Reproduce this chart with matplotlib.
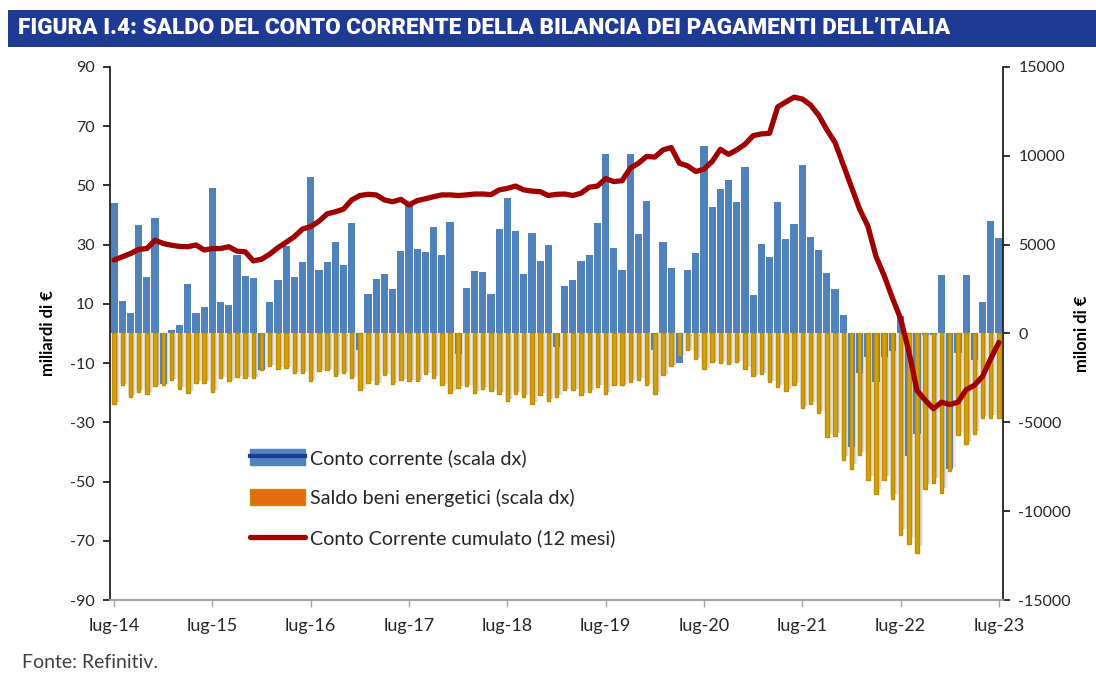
import numpy as np
import matplotlib
matplotlib.use("Agg")
import matplotlib.pyplot as plt
from matplotlib.patches import Patch, Rectangle
from matplotlib.lines import Line2D

plt.rcParams['font.family'] = ['Lato', 'DejaVu Sans']
plt.rcParams['axes.unicode_minus'] = False

# monthly data, lug-14 .. lug-23
tick_labels = ['lug-14', 'lug-15', 'lug-16', 'lug-17', 'lug-18',
               'lug-19', 'lug-20', 'lug-21', 'lug-22', 'lug-23']

# Conto corrente (milioni di euro, scala dx)
conto_corrente = [
    7330, 1830, 1170, 6100, 3170, 6500, -2830, 220, 500, 2780, 1170, 1500,
    8170, 1750, 1600, 4420, 3230, 3120, -2070, 1780, 3000, 4920, 3170, 4000,
    8830, 3600, 4000, 5170, 3830, 6230, -930, 2250, 3080, 3330, 2480, 4630,
    7230, 4730, 4600, 5980, 4420, 6250, -1170, 2570, 3500, 3480, 2200, 5880,
    7650, 5770, 3330, 5670, 4080, 4980, -750, 2670, 3000, 4080, 4420, 6230,
    10080, 4830, 3600, 10080, 5580, 7480, -930, 5150, 3700, -1650, 3600, 4550,
    10570, 7130, 8120, 8650, 7380, 9350, 2170, 5020, 4280, 7420, 5320, 6150,
    9480, 5450, 4700, 3430, 2530, 1030, -6380, -2250, -1300, -2750, -1330, -1000,
    980, -6870, -5630, -80, -80, 3280, -7600, -1120, 3280, -1500, 1780, 6350,
    5350,
]

# Saldo beni energetici (milioni di euro, scala dx)
saldo_energia = [
    -3950, -2920, -3570, -3280, -3380, -2970, -2920, -2630, -3100, -3330, -2770, -2770,
    -3280, -2500, -2680, -2450, -2530, -2530, -2070, -1820, -1970, -1920, -2220, -2220,
    -2670, -2100, -2070, -2400, -2250, -2530, -3200, -2780, -2870, -2350, -2870, -2630,
    -2670, -2670, -2300, -2480, -2920, -3330, -3050, -2970, -3350, -3100, -3250, -3380,
    -3800, -3380, -3570, -3950, -3480, -3820, -3570, -3200, -3200, -3480, -3280, -3000,
    -3380, -2920, -2920, -2720, -2600, -2920, -3380, -2350, -1830, -1220, -930, -1420,
    -2000, -1580, -1650, -1720, -1580, -1970, -2400, -2280, -2750, -3000, -3220, -2900,
    -4220, -3970, -4480, -5820, -5770, -7130, -7600, -6850, -8250, -9050, -8250, -9330,
    -11350, -11820, -12350, -8730, -8400, -8950, -7730, -5720, -6230, -5680, -4780, -4730,
    -4780,
]

# Conto corrente cumulato 12 mesi (miliardi di euro, scala sx)
cumulato = [
    24.8, 25.9, 27.0, 28.4, 28.7, 31.5, 30.4, 29.8, 29.4, 29.3, 29.9, 28.2,
    28.7, 28.7, 29.3, 27.8, 27.6, 24.5, 25.1, 26.8, 29.0, 30.8, 32.7, 35.3,
    36.1, 37.9, 40.4, 41.1, 42.0, 45.1, 46.6, 47.0, 46.8, 45.1, 44.5, 45.3,
    43.4, 44.9, 45.5, 46.2, 46.8, 46.8, 46.6, 46.8, 47.1, 47.1, 46.9, 48.5,
    49.0, 49.8, 48.5, 48.1, 47.9, 46.6, 47.0, 47.1, 46.6, 47.4, 49.4, 49.8,
    52.3, 51.3, 51.6, 55.8, 57.5, 59.8, 59.6, 62.0, 62.8, 57.5, 56.6, 54.7,
    55.5, 58.1, 62.2, 60.5, 62.0, 63.9, 66.8, 67.4, 67.6, 76.5, 78.2, 79.8,
    79.2, 77.2, 73.7, 68.8, 64.5, 57.0, 49.5, 42.0, 36.3, 26.0, 19.5, 12.0,
    5.0, -6.0, -19.2, -22.5, -25.4, -23.2, -24.0, -23.2, -19.0, -17.5, -14.5, -8.5,
    -3.0,
]

BLUE = '#4F81BD'
GOLD = '#D4A10F'
GOLD_EDGE = '#BF8F00'
RED = '#A00000'
NAVY = '#1F3A93'

x = np.arange(len(conto_corrente))
cc = np.array(conto_corrente)
en = np.array(saldo_energia)

fig = plt.figure(figsize=(10.96, 6.75), dpi=100)
ax = fig.add_axes([110 / 1096, 75 / 675, 893 / 1096, 533 / 675])
ax2 = ax.twinx()

# soft shadow under the energy bars
for w, off, a in [(1.0, 0.25, 0.07), (0.75, 0.2, 0.08), (0.55, 0.15, 0.09)]:
    ax2.bar(x + off, en * 0.97, width=w, color='black', alpha=a,
            linewidth=0, zorder=1)
ax2.bar(x, cc, width=0.88, color=BLUE, linewidth=0, zorder=2)
ax2.bar(x, en, width=0.42, color=GOLD, edgecolor=GOLD_EDGE,
        linewidth=1.0, zorder=3)

ax.plot(x, cumulato, color=RED, lw=3.8, solid_capstyle='round',
        solid_joinstyle='round', zorder=5)

ax.set_zorder(ax2.get_zorder() + 1)
ax.patch.set_visible(False)

ax.set_xlim(-0.5, len(x) - 0.5)
ax.set_ylim(-90, 90)
ax.set_yticks(np.arange(-90, 91, 20))
ax2.set_ylim(-15000, 15000)
ax2.set_yticks(np.arange(-15000, 15001, 5000))

ax.set_xticks(np.arange(0, len(x), 12))
ax.set_xticklabels(tick_labels, fontsize=13)

for s in ['top', 'right']:
    ax.spines[s].set_visible(False)
for s in ['top', 'left', 'bottom']:
    ax2.spines[s].set_visible(False)
ax.spines['left'].set_color('#222222')
ax.spines['left'].set_linewidth(1.3)
ax.spines['bottom'].set_color('#A6A6A6')
ax.spines['bottom'].set_linewidth(1.5)
ax2.spines['right'].set_color('#222222')
ax2.spines['right'].set_linewidth(1.3)

ax.tick_params(axis='y', length=5, width=1.3, color='#222222',
               labelsize=11.5, labelcolor='#262626', pad=6)
ax2.tick_params(axis='y', length=5, width=1.3, color='#222222',
                labelsize=11.5, labelcolor='#262626', pad=6)
ax.tick_params(axis='x', length=5, width=1, color='#A6A6A6',
               labelcolor='#262626', pad=8)

ax.set_ylabel('miliardi di €', fontsize=12, fontweight='bold', labelpad=10)
ax2.set_ylabel('miloni di €', fontsize=12, fontweight='bold', labelpad=2)

handles = [
    (Patch(facecolor=BLUE, edgecolor=BLUE), Line2D([], [], color=NAVY, lw=3)),
    Patch(facecolor='#E46C0A', edgecolor=GOLD_EDGE, linewidth=1),
    Line2D([], [], color=RED, lw=3.8, solid_capstyle='round'),
]
labels = ['Conto corrente (scala dx)', 'Saldo beni energetici (scala dx)',
          'Conto Corrente cumulato (12 mesi)']
fig.legend(handles, labels, loc='upper left',
           bbox_to_anchor=(240 / 1096, 1 - 439 / 675), frameon=False,
           fontsize=14.2, handlelength=2.8, handleheight=0.9,
           handletextpad=0.23, labelspacing=1.12, borderpad=0,
           labelcolor='#262626')

# title band
fig.patches.append(Rectangle((8 / 1096, 1 - 47 / 675), 1 - 8 / 1096, 37 / 675,
                             transform=fig.transFigure, facecolor=NAVY,
                             edgecolor='none', zorder=0))
fig.text(18 / 1096, 1 - 28.5 / 675,
         'FIGURA I.4: SALDO DEL CONTO CORRENTE DELLA BILANCIA DEI PAGAMENTI DELL’ITALIA',
         color='white', fontsize=16.2, fontweight='heavy', va='center', ha='left',
         family=['Roboto', 'DejaVu Sans'])

fig.text(22 / 1096, 1 - 663 / 675, 'Fonte: Refinitiv.', fontsize=14,
         color='#404040', va='center', ha='left')

fig.savefig('out.png', dpi=100)
